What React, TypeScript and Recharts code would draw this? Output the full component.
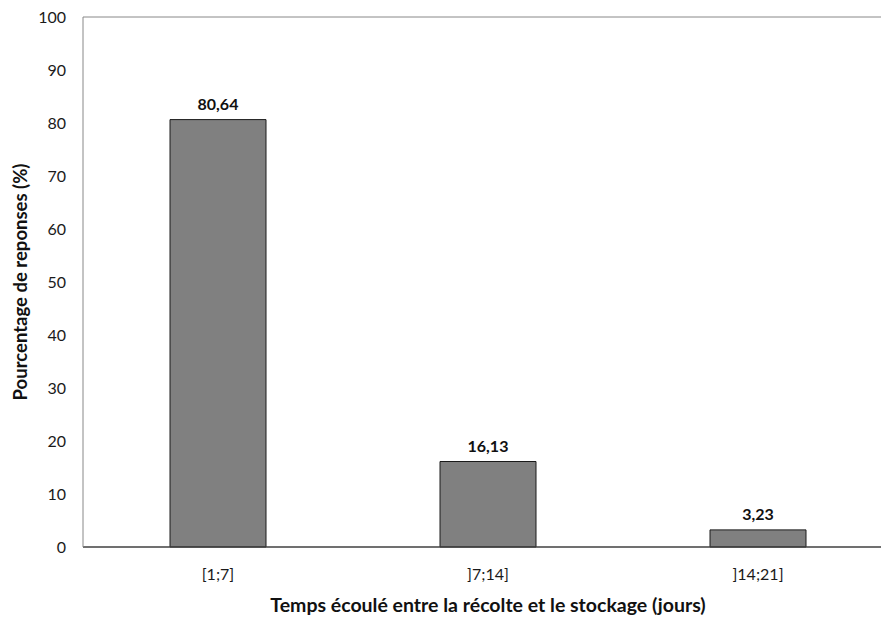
import { Bar, BarChart, LabelList, ReferenceLine, XAxis, YAxis } from 'recharts'

const categories = ['[1;7]', ']7;14]', ']14;21]']
const percentages = [80.64, 16.13, 3.23]
const yTicks = [0, 10, 20, 30, 40, 50, 60, 70, 80, 90, 100]

const data = categories.map((cat, i) => ({ cat, value: percentages[i] }))

const font = 'Lato, "Open Sans", sans-serif'

export default function App() {
  return (
    <div
      style={{
        position: 'absolute',
        top: 0,
        left: 0,
        width: 881,
        height: 619,
        overflow: 'hidden',
        background: '#fff',
      }}
    >
      <BarChart
        width={900}
        height={619}
        data={data}
        margin={{ top: 17, right: 7, left: 0, bottom: 0 }}
        barSize={96}
      >
        <XAxis
          dataKey="cat"
          height={72}
          tickLine={false}
          tickSize={0}
          tickMargin={22}
          axisLine={{ stroke: '#404040', strokeWidth: 1.5 }}
          tick={{ fontSize: 16, fill: '#1a1a1a', fontFamily: font }}
          label={{
            value: 'Temps écoulé entre la récolte et le stockage (jours)',
            position: 'insideBottom',
            offset: 7,
            style: { fontSize: 19.5, fontWeight: 700, fill: '#111', fontFamily: font },
          }}
        />
        <YAxis
          width={83}
          domain={[0, 100]}
          ticks={yTicks}
          interval={0}
          tickLine={false}
          tickSize={0}
          tickMargin={17}
          axisLine={{ stroke: '#888' }}
          tick={{ fontSize: 16, fill: '#1a1a1a', fontFamily: font }}
          label={{
            value: 'Pourcentage de reponses (%)',
            angle: -90,
            position: 'insideLeft',
            offset: 20,
            style: { textAnchor: 'middle', fontSize: 18.5, fontWeight: 700, fill: '#111', fontFamily: font },
          }}
        />
        <ReferenceLine y={100} stroke="#888" />
        <Bar dataKey="value" fill="#808080" stroke="#1a1a1a" strokeWidth={1} isAnimationActive={false}>
          <LabelList
            dataKey="value"
            position="top"
            offset={10}
            formatter={(v: number) => v.toFixed(2).replace('.', ',')}
            style={{ fontSize: 16, fontWeight: 700, fill: '#111', fontFamily: font }}
          />
        </Bar>
      </BarChart>
    </div>
  )
}
